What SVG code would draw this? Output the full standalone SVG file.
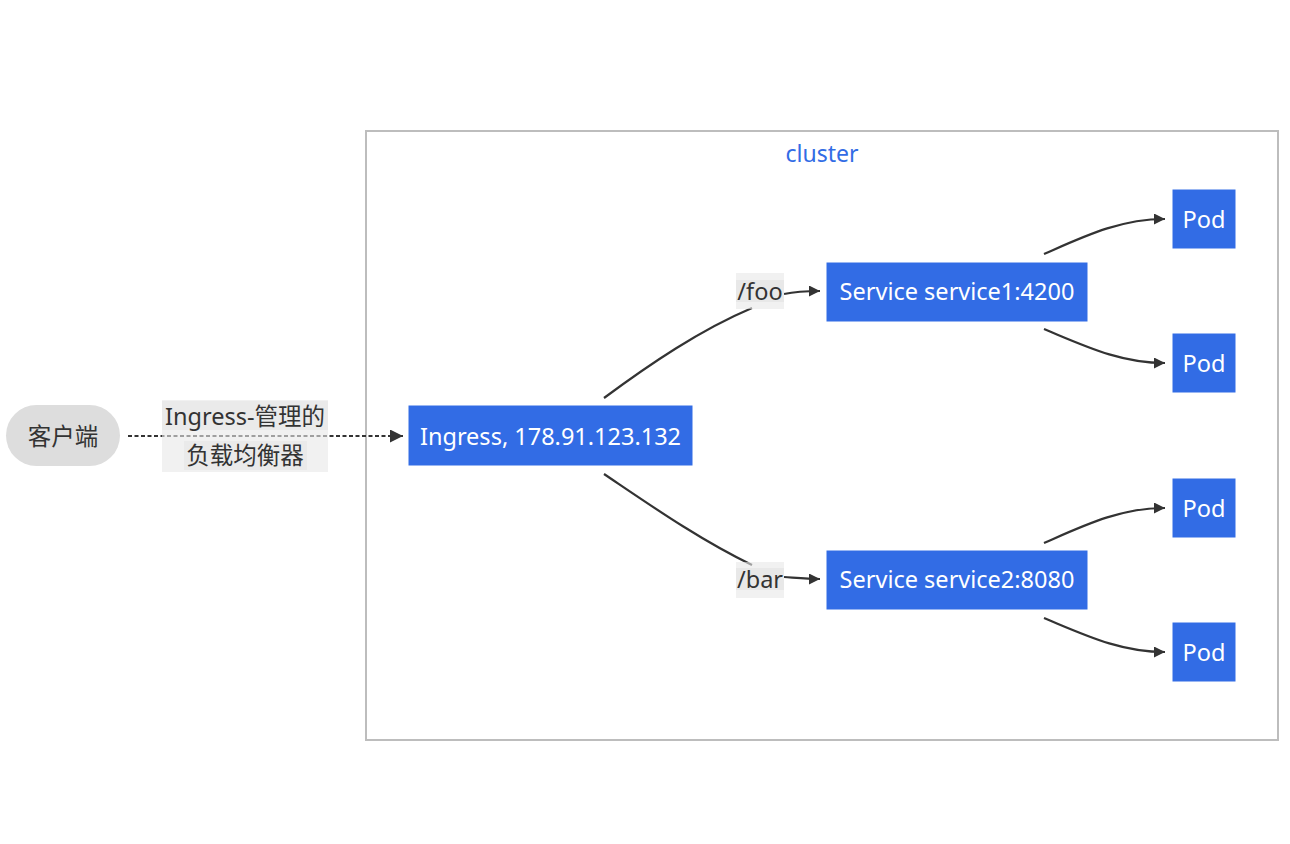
<svg xmlns="http://www.w3.org/2000/svg" width="1290" height="844" viewBox="0 0 1290 844">
<style>
.node rect{fill:#326ce5;stroke:#fff;stroke-width:1}
.nt{fill:#fff;font-family:"Noto Sans","Open Sans","Noto Sans CJK SC",sans-serif;font-size:23.5px;text-anchor:middle;dominant-baseline:central}
.lt{fill:#333;font-family:"Noto Sans","Noto Sans CJK SC",sans-serif;font-size:23.5px;text-anchor:middle;dominant-baseline:central}
.e{fill:none;stroke:#333;stroke-width:2.2}
.lb{fill:#e8e8e8}
</style>
<defs>
<marker id="ah" viewBox="0 0 10 10" refX="10" refY="5" markerWidth="11" markerHeight="11" markerUnits="userSpaceOnUse" orient="auto">
<path d="M0,0 L10,5 L0,10 z" fill="#333"/>
</marker>
<marker id="ah2" viewBox="0 0 10 10" refX="10" refY="5" markerWidth="13" markerHeight="13" markerUnits="userSpaceOnUse" orient="auto">
<path d="M0,0 L10,5 L0,10 z" fill="#333"/>
</marker>
</defs>
<rect width="1290" height="844" fill="#fff"/>
<g id="cluster">
<rect x="366" y="131" width="912" height="609" fill="#fff" stroke="#bdbdbd" stroke-width="2"/>
<text x="822" y="153" fill="#326ce5" font-family="Noto Sans,sans-serif" font-size="23" text-anchor="middle" dominant-baseline="central">cluster</text>
</g>
<g id="connectors">
<path class="e" d="M128,436 L403,436" stroke-dasharray="4,2.5" stroke-width="2.6" marker-end="url(#ah2)"/>
<path class="e" d="M604,398 C650,364 700,330 752,308"/>
<path class="e" d="M784,294 C798,291 808,291 820,291" marker-end="url(#ah)"/>
<path class="e" d="M604,474 C650,505 700,540 752,565"/>
<path class="e" d="M784,577 C798,578 808,579 820,579" marker-end="url(#ah)"/>
<path class="e" d="M1044,254 C1085,236 1120,219 1165,219" marker-end="url(#ah)"/>
<path class="e" d="M1044,329 C1085,346 1120,363 1165,363" marker-end="url(#ah)"/>
<path class="e" d="M1044,543 C1085,525 1120,508 1165,508" marker-end="url(#ah)"/>
<path class="e" d="M1044,618 C1085,635 1120,652 1165,652" marker-end="url(#ah)"/>
</g>
<g id="label-lb">
<rect x="162" y="400" width="166" height="72" fill="#e8e8e8" opacity="0.6"/>
<rect x="162" y="401" width="166" height="29" class="lb" opacity="0.8"/>
<rect x="184" y="441" width="123" height="29" class="lb" opacity="0.8"/>
<text class="lt" x="245" y="416">Ingress-管理的</text>
<text class="lt" x="245" y="455">负载均衡器</text>
</g>
<g id="label-foo">
<rect x="736" y="273" width="48" height="36" fill="#e8e8e8" opacity="0.6"/>
<rect x="736" y="280" width="48" height="22" class="lb"/>
<text class="lt" x="760" y="291">/foo</text>
</g>
<g id="label-bar">
<rect x="736" y="562" width="48" height="36" fill="#e8e8e8" opacity="0.6"/>
<rect x="736" y="568" width="48" height="22" class="lb"/>
<text class="lt" x="760" y="579">/bar</text>
</g>
<g id="client">
<rect x="6" y="405" width="114" height="61" rx="30.5" fill="#ddd"/>
<text class="lt" x="63" y="436">客户端</text>
</g>
<g id="ingress" class="node">
<rect x="408" y="405" width="285" height="61"/>
<text class="nt" x="550.5" y="436">Ingress, 178.91.123.132</text>
</g>
<g id="service1" class="node">
<rect x="826" y="262" width="262" height="60"/>
<text class="nt" x="957" y="291">Service service1:4200</text>
</g>
<g id="service2" class="node">
<rect x="826" y="550" width="262" height="60"/>
<text class="nt" x="957" y="579">Service service2:8080</text>
</g>
<g id="pod1" class="node"><rect x="1172" y="189" width="64" height="60"/><text class="nt" x="1204" y="219" font-size="22">Pod</text></g>
<g id="pod2" class="node"><rect x="1172" y="333" width="64" height="60"/><text class="nt" x="1204" y="363" font-size="22">Pod</text></g>
<g id="pod3" class="node"><rect x="1172" y="478" width="64" height="60"/><text class="nt" x="1204" y="508" font-size="22">Pod</text></g>
<g id="pod4" class="node"><rect x="1172" y="622" width="64" height="60"/><text class="nt" x="1204" y="652" font-size="22">Pod</text></g>
</svg>
